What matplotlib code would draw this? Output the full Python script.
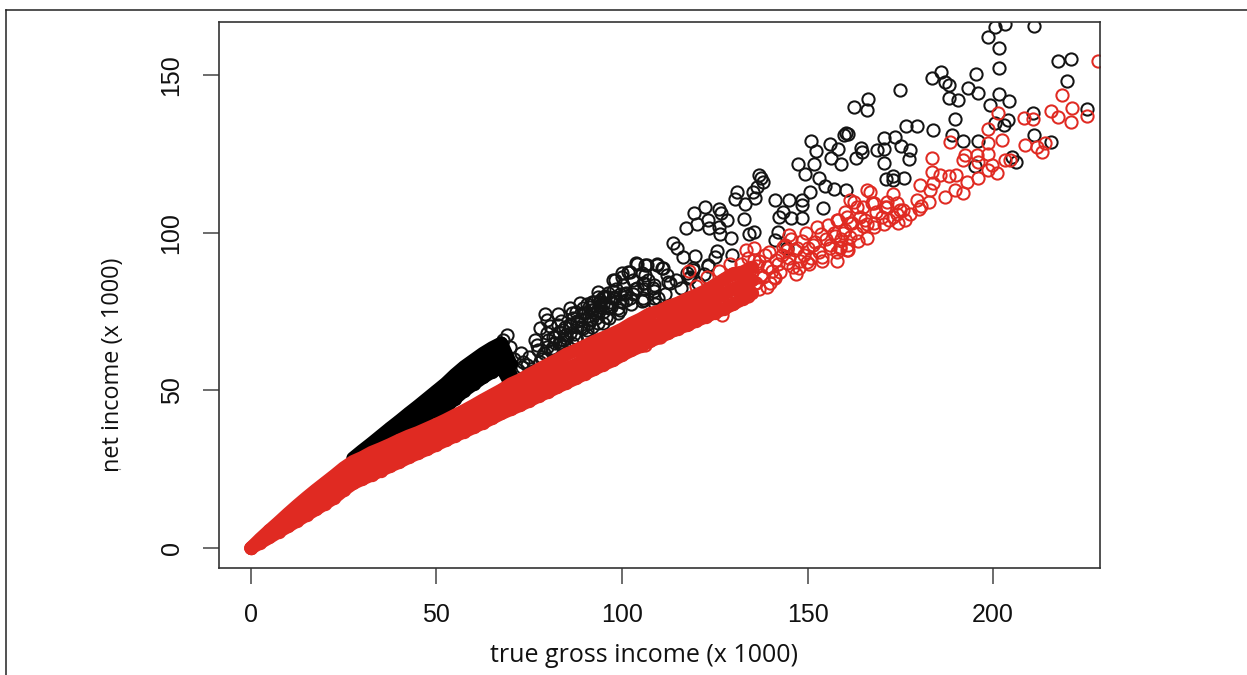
import matplotlib
matplotlib.use("Agg")
from matplotlib import pyplot as plt
from matplotlib.lines import Line2D

# sparse black circles
black_x = [198.7, 200.4, 203.2, 211.1, 201.7, 201.6, 217.4, 221.0, 220.0, 225.2,
           186.0, 183.4, 187.1, 188.0, 195.4, 193.2, 196.0, 188.1, 190.5, 201.7,
           204.3, 199.2, 189.8, 203.9, 202.8, 200.6, 210.7, 174.8, 166.2, 162.5,
           166.1, 176.4, 179.6, 183.7, 189.0, 192.0, 196.0, 210.9, 215.5, 195.2,
           205.0, 206.2, 160.4, 161.0, 159.9, 150.9, 152.2, 156.1, 158.1, 156.2,
           159.0, 151.8, 147.5, 149.2, 153.1, 154.7, 157.2, 160.3, 150.7, 148.4,
           145.0, 141.2, 148.4, 143.5, 142.2, 145.5, 148.4, 154.1, 164.4, 164.6,
           163.0, 168.6, 170.6, 170.7, 173.6, 175.2, 177.6, 177.2, 170.5, 173.0,
           171.2, 173.1, 176.0, 137.0, 137.5, 138.1, 136.3, 135.4, 135.7, 130.9,
           130.5, 133.2, 122.4, 126.0, 126.6, 119.5, 128.2, 123.3, 132.9, 120.1,
           117.2, 123.5, 126.0, 126.4, 135.6, 134.1, 129.3, 113.8, 114.7, 116.5,
           119.7, 125.5, 125.1, 129.6, 142.1, 141.2, 144.4, 104.0, 106.2, 109.3,
           99.9, 97.7, 102.2, 105.3, 110.7, 112.5, 105.8, 108.5, 119.2, 118.3,
           123.3, 105.8, 108.5, 95.4, 97.7, 94.1, 99.5, 68.9, 68.0, 69.8,
           72.9, 73.4, 79.2, 79.9, 82.8, 77.9, 76.5, 77.4, 79.7, 82.8,
           86.0, 88.7, 91.8, 93.6, 96.3, 98.1, 99.9, 101.7, 103.9, 106.6,
           109.3, 111.1, 112.0, 112.9, 108.4, 105.7, 103.0, 100.3, 101.2, 97.6,
           94.9, 92.7, 89.6, 86.9, 84.6, 86.0, 89.6, 81.5, 79.7, 105.7,
           109.8, 102.1, 106.2, 94.0, 99.0, 95.8, 91.4, 83.3, 86.4, 90.5,
           117.4, 119.2, 123.2, 88.0, 92.0, 96.0, 84.0, 81.0, 78.5, 93.5,
           97.5, 91.0, 87.5, 84.5, 75.0, 100.5, 103.5, 99.0, 95.0]
black_y = [162.1, 165.1, 166.2, 165.5, 158.7, 152.3, 154.4, 155.1, 148.2, 139.1,
           150.8, 149.0, 147.7, 146.8, 150.3, 145.8, 144.2, 142.7, 142.1, 143.9,
           141.8, 140.6, 136.2, 135.7, 134.1, 134.7, 137.8, 145.4, 142.3, 139.9,
           138.9, 133.9, 133.9, 132.5, 131.0, 129.2, 129.1, 131.0, 128.6, 121.1,
           124.1, 122.5, 131.5, 131.2, 131.0, 129.1, 126.0, 128.1, 126.4, 123.8,
           121.8, 121.8, 121.7, 118.6, 117.2, 114.9, 113.8, 113.5, 113.0, 110.3,
           110.3, 110.3, 108.8, 106.6, 105.0, 104.8, 104.8, 107.9, 126.7, 125.7,
           123.8, 126.2, 126.5, 129.9, 130.2, 127.5, 126.2, 123.3, 122.0, 118.0,
           116.9, 116.7, 117.2, 118.3, 117.2, 116.1, 114.6, 113.0, 110.9, 113.0,
           110.6, 109.1, 108.2, 107.5, 106.4, 106.4, 104.0, 104.0, 104.3, 102.9,
           101.4, 101.4, 101.9, 99.6, 100.1, 99.6, 98.2, 96.6, 95.0, 92.4,
           92.6, 94.3, 92.4, 92.9, 100.3, 97.7, 95.3, 90.0, 89.7, 90.0,
           86.0, 84.9, 87.6, 87.1, 88.7, 84.4, 83.9, 83.4, 88.1, 86.0,
           89.4, 78.6, 79.2, 79.7, 79.2, 78.6, 80.7, 67.6, 66.0, 63.7,
           61.8, 59.1, 74.2, 72.3, 74.2, 69.7, 66.0, 62.8, 68.1, 70.7,
           76.0, 77.6, 78.1, 81.3, 80.8, 85.0, 87.1, 87.7, 90.3, 89.8,
           89.8, 88.7, 86.6, 84.0, 82.4, 84.0, 85.0, 83.4, 78.7, 79.2,
           79.7, 74.4, 74.4, 72.9, 70.2, 68.1, 69.7, 67.0, 63.9, 79.2,
           79.2, 79.2, 86.6, 77.1, 76.0, 73.4, 72.3, 64.9, 64.9, 67.6,
           87.1, 88.7, 89.8, 72.0, 70.0, 77.0, 66.0, 63.0, 60.0, 75.5,
           81.5, 76.5, 66.5, 62.5, 60.5, 80.5, 82.0, 74.5, 71.5]

# the crowded black cloud just above the red band
cloud_x = [77.0, 78.5, 80.0, 81.5, 83.0, 84.5, 86.0, 87.5, 89.0, 90.5, 92.0, 93.5, 95.0, 96.5, 98.0, 99.5, 101.0, 102.5,
           104.0, 105.5, 107.0, 108.5, 80.5, 83.5, 86.5, 89.5, 92.5, 95.5, 98.5, 88.0, 91.0, 94.0, 97.0, 85.0, 82.0,
           100.0, 103.0, 106.0, 109.0, 111.5, 114.5, 116.0, 118.0, 120.5, 122.0,
           79.0, 81.0, 83.0, 85.0, 87.0, 89.0, 91.0, 93.0, 95.0, 97.0, 84.0, 86.0, 88.0, 90.0, 92.0, 94.0,
           82.0, 87.5, 90.5, 93.5, 96.5, 99.5, 72.0, 74.5, 76.0, 78.0, 71.0, 73.0]
cloud_y = [64.5, 60.5, 66.0, 62.5, 68.5, 64.0, 71.0, 66.5, 72.5, 69.0, 75.5, 71.5, 77.5, 73.0, 79.5, 75.5, 81.0, 77.5,
           82.5, 78.5, 85.0, 81.5, 70.5, 72.0, 74.5, 76.0, 78.0, 80.0, 82.0, 70.0, 73.5, 76.5, 78.0, 67.5, 65.0,
           78.0, 80.5, 82.0, 77.5, 80.5, 85.0, 82.5, 85.5, 84.0, 87.0,
           62.0, 63.5, 65.0, 66.5, 68.0, 70.0, 71.5, 73.0, 75.0, 76.5, 69.0, 70.5, 72.0, 74.5, 75.5, 78.0,
           67.0, 75.0, 77.5, 79.5, 76.0, 78.5, 56.5, 58.0, 56.0, 59.0, 60.0, 57.5]

# solid black wedge
wedge_x = [27.5, 30, 32.5, 35, 37.5, 40, 42.5, 45, 47.5, 50, 52.5, 55, 57.5, 60, 62.5, 65, 67.5, 70]
wedge_row1 = [28.5, 30.9, 33.2, 35.6, 38.0, 40.3, 42.7, 45.0, 47.4, 49.8, 52.2, 55.0, 57.5, 59.6, 61.7, 63.5, 65.0, 58.5]
wedge_row2 = [26.0, 28.0, 30.0, 32.0, 34.2, 36.5, 38.9, 41.2, 43.6, 46.0, 48.4, 51.2, 53.7, 55.8, 57.9, 59.7, 61.2, 55.0]
wedge_row3 = [26.0, 27.0, 29.0, 30.5, 32.5, 34.0, 36.0, 37.5, 39.8, 42.2, 44.6, 47.4, 49.9, 52.0, 54.1, 55.9, 57.4, 52.0]

# solid red band, upper, middle and lower rows of the point mass
band_x = [0, 2.5, 5, 7.5, 10, 12.5, 15, 17.5, 20, 22.5, 25, 27.5, 30, 32.5, 35, 37.5, 40, 42.5,
          45, 47.5, 50, 52.5, 55, 57.5, 60, 62.5, 65, 67.5, 70, 72.5, 75, 77.5, 80, 82.5, 85, 87.5,
          90, 92.5, 95, 97.5, 100, 102.5, 105, 107.5, 110, 112.5, 115, 117.5, 120, 122.5, 125, 127.5, 130, 132.5, 135]
band_top = [0, 2.9, 5.6, 8.2, 10.9, 13.5, 16.0, 18.4, 20.7, 23.0, 25.4, 27.4, 28.7, 30.3, 31.5, 32.8, 34.2, 35.5,
            36.6, 37.9, 39.2, 40.6, 42.1, 43.6, 45.2, 46.9, 48.5, 50.1, 52.0, 53.3, 55.0, 56.6, 58.2, 59.7, 61.4, 62.7,
            64.1, 65.5, 66.7, 68.0, 69.4, 71.2, 72.6, 74.3, 75.1, 76.6, 77.6, 79.0, 80.2, 81.6, 83.4, 85.2, 87.0, 87.5, 89.0]
band_mid = [0, 2.3, 4.5, 6.7, 8.9, 11.1, 13.3, 15.4, 17.5, 19.5, 21.6, 23.9, 25.3, 26.8, 28.0, 29.4, 30.7, 32.1,
            33.3, 34.6, 36.0, 37.4, 38.8, 40.2, 41.7, 43.3, 44.8, 46.4, 48.0, 49.3, 50.8, 52.4, 53.8, 55.3, 56.9, 58.2,
            59.7, 61.1, 62.4, 63.7, 65.3, 66.9, 68.3, 69.9, 70.9, 72.4, 73.6, 74.8, 76.1, 77.4, 79.0, 80.5, 82.2, 83.5, 85.0]
band_low = [0, 1.7, 3.4, 5.2, 6.9, 8.7, 10.5, 12.3, 14.1, 16.0, 18.4, 20.5, 21.9, 23.2, 24.6, 26.0, 27.3, 28.8,
            30.1, 31.4, 32.8, 34.2, 35.6, 36.9, 38.3, 39.7, 41.2, 42.7, 44.0, 45.3, 46.7, 48.2, 49.5, 51.0, 52.4, 53.8,
            55.3, 56.7, 58.2, 59.5, 61.2, 62.7, 64.0, 65.6, 66.8, 68.2, 69.6, 70.7, 72.1, 73.3, 74.7, 75.9, 77.4, 79.0, 81.0]

# sparse red circles
red_x = [228.2, 218.5, 215.6, 217.6, 221.2, 221.0, 225.2, 208.4, 210.7, 201.4,
         198.7, 202.3, 188.4, 198.7, 208.6, 211.8, 213.1, 214.0, 192.5, 195.6,
         198.7, 192.0, 196.0, 199.6, 201.0, 198.7, 203.2, 204.6, 183.5, 183.5,
         185.7, 188.0, 190.0, 196.0, 192.9, 183.9, 180.3, 183.0, 187.1, 189.8,
         192.0, 179.4, 182.6, 179.9, 176.3, 175.8, 166.0, 167.3, 171.3, 170.9,
         173.1, 174.1, 174.9, 173.1, 170.5, 167.8, 166.0, 165.5, 161.0, 161.5,
         158.8, 162.4, 160.1, 158.3, 160.6, 158.8, 156.1, 147.6, 153.9, 149.8,
         147.1, 144.4, 144.9, 141.3, 139.0, 135.9, 135.5, 131.9, 126.9, 117.9,
         114.3, 110.3, 106.2, 152.5, 157.9, 161.5, 163.3, 166.0, 167.8, 166.9,
         128.0, 130.0, 132.0, 134.0, 133.0, 135.0, 137.0, 136.0, 138.0, 139.0,
         137.0, 140.0, 141.0, 142.0, 143.0, 144.0, 145.0, 146.0, 148.0, 147.0,
         149.0, 150.0, 151.0, 152.0, 153.0, 155.0, 154.0, 156.0, 157.0, 158.0,
         159.0, 160.0, 161.0, 162.0, 163.0, 164.0, 165.0, 165.0, 168.0, 170.0,
         172.0, 174.0, 123.0, 126.0, 129.0, 120.0, 131.0, 134.0, 127.0, 118.0,
         136.5, 138.5, 140.5, 133.5, 135.5, 137.5, 139.5, 141.5, 143.5, 145.5,
         142.5, 144.5, 146.5, 148.5, 150.5, 149.5, 151.5, 153.5, 155.5, 157.5,
         159.5, 161.5, 163.5, 158.0, 160.5, 168.5, 171.5, 174.5, 177.5, 180.5]
red_y = [154.4, 143.6, 138.7, 136.6, 139.6, 135.2, 137.0, 136.4, 136.2, 137.8,
         132.8, 129.4, 128.8, 128.3, 127.8, 127.1, 125.7, 128.3, 124.6, 124.6,
         125.1, 123.0, 122.5, 121.4, 118.8, 119.9, 123.0, 123.0, 123.6, 119.3,
         118.3, 118.1, 118.3, 117.2, 116.2, 115.6, 115.1, 113.5, 111.4, 113.5,
         112.7, 110.3, 109.8, 107.5, 104.0, 107.2, 113.5, 109.3, 109.8, 108.2,
         112.4, 109.3, 107.2, 105.0, 102.9, 101.9, 98.4, 104.0, 94.5, 98.7,
         95.5, 109.8, 106.6, 104.0, 94.5, 95.0, 95.0, 88.7, 92.4, 90.8,
         95.0, 94.5, 99.2, 85.5, 82.8, 83.9, 95.0, 79.1, 76.5, 71.2,
         69.6, 67.0, 64.3, 101.9, 104.0, 110.3, 108.2, 102.9, 109.3, 113.0,
         84.0, 87.0, 90.0, 92.0, 86.0, 88.0, 91.0, 84.0, 86.0, 89.0,
         82.0, 84.0, 86.0, 90.0, 93.0, 96.0, 92.0, 89.0, 91.0, 87.0,
         93.0, 95.0, 92.0, 97.0, 94.0, 98.0, 91.0, 96.0, 100.0, 94.0,
         98.0, 101.0, 96.0, 103.0, 100.0, 105.0, 108.0, 102.0, 103.0, 105.0,
         104.0, 106.0, 86.0, 88.0, 90.0, 83.0, 80.0, 80.0, 74.0, 88.0,
         89.5, 93.0, 88.0, 94.5, 91.5, 86.5, 94.0, 91.5, 95.5, 98.0,
         87.5, 90.5, 94.5, 97.5, 90.0, 100.0, 96.0, 99.5, 102.5, 99.0,
         100.0, 103.0, 97.5, 91.0, 105.0, 106.5, 108.0, 103.0, 106.0, 108.5]

x_ticks = [0, 50, 100, 150, 200]
y_ticks = [0, 50, 100, 150]

W, H = 1247, 675
RED = '#e02a22'
BLACK = '#141414'

fig = plt.figure(figsize=(W / 100, H / 100), dpi=100)
ax = fig.add_axes([219 / W, (H - 568) / H, 881 / W, 546 / H])

open_style = dict(linestyle='none', marker='o', markersize=8.8, markerfacecolor='none', markeredgewidth=1.45)
# the point masses are so crowded that the circles merge into a solid body
solid_style = dict(linestyle='-', linewidth=9.6, solid_capstyle='round', marker='o', markersize=9.6, markeredgewidth=0)

ax.plot(black_x, black_y, color=BLACK, **open_style)
ax.plot(cloud_x, cloud_y, color=BLACK, **open_style)
for row in (wedge_row1, wedge_row2, wedge_row3):
    ax.plot(wedge_x, row, color='black', **solid_style)
for row in (band_top, band_mid, band_low):
    ax.plot(band_x, row, color=RED, **solid_style)
ax.plot(red_x, red_y, color=RED, **open_style)

ax.set_xlim(-8.6, 228.8)
ax.set_ylim(-6.3, 166.8)
ax.set_xticks(x_ticks)
ax.set_yticks(y_ticks)
ax.tick_params(axis='both', length=11.5, width=1.1, color='#444444', labelsize=18, labelcolor='#111111')
ax.tick_params(axis='x', pad=14)
ax.tick_params(axis='y', pad=14)
for lab in ax.get_xticklabels() + ax.get_yticklabels():
    lab.set_family('Liberation Sans')
for lab in ax.get_yticklabels():
    lab.set_rotation(90)
    lab.set_verticalalignment('center')
for side in ax.spines.values():
    side.set_linewidth(1.2)
    side.set_color('#333333')

fig.text(644 / W, 1 - 656 / H, 'true gross income (x 1000)', family='Open Sans', fontsize=18,
         ha='center', va='center', color='#111111')
fig.text(113 / W, 1 - 365 / H, 'net income (x 1000)', family='Open Sans', fontsize=16.9, rotation=90,
         ha='center', va='center', color='#111111')

# page frame round the scanned figure, and the stray mark at the start of the y label
fig.add_artist(Line2D([6 / W, 1], [1 - 10 / H, 1 - 10 / H], color='#222222', linewidth=1.1))
fig.add_artist(Line2D([6 / W, 6 / W], [0, 1 - 10 / H], color='#222222', linewidth=1.1))
fig.add_artist(Line2D([104 / W, 120 / W], [1 - 469 / H, 1 - 469 / H], color='#999999', linewidth=0.8))

fig.savefig('out.png', dpi=100)
